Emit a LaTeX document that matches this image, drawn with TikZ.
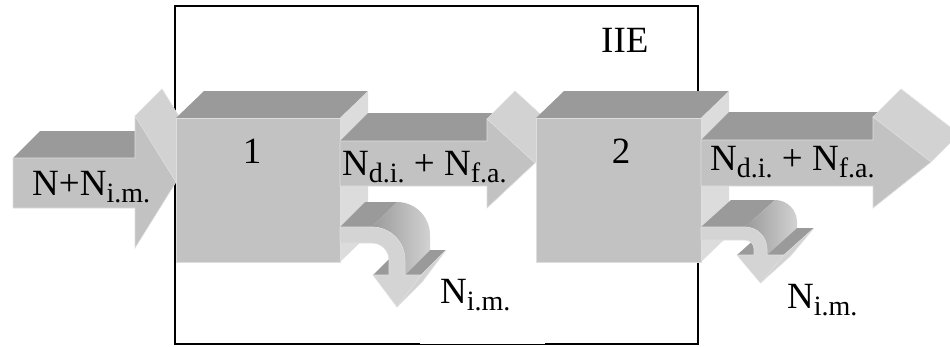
\documentclass[tikz,border=0pt]{standalone}
\usepackage{fontspec}
\setmainfont{Liberation Serif}
\definecolor{facefront}{HTML}{C2C2C2}
\definecolor{facetop}{HTML}{9A9A9A}
\definecolor{faceside}{HTML}{DCDCDC}
\definecolor{facehead}{HTML}{D2D2D2}
\definecolor{facecurl}{HTML}{D4D4D4}
\definecolor{edgelight}{HTML}{DEDEDE}
\newcommand{\lowidx}[1]{\raisebox{-0.2em}{\fontsize{28}{30}\selectfont #1}}
\tikzset{
  front/.style={fill=facefront, draw=edgelight, line width=0.6pt, line join=miter},
  topf/.style={fill=facetop},
  sidef/.style={fill=faceside},
  headf/.style={fill=facehead, draw=edgelight, line width=0.6pt},
  curlf/.style={fill=facecurl, draw=edgelight, line width=0.6pt},
  curlsurf/.style={left color=facetop, middle color=edgelight!90!white, right color=facehead},
  lbl/.style={inner sep=0pt, anchor=base west, font=\fontsize{37}{40}\selectfont},
  frameline/.style={draw=black, line width=1.4pt},
}
\begin{document}
\begin{tikzpicture}[x=1pt,y=-1pt]
\useasboundingbox (0,0) rectangle (950,346);
% frame (IIE boundary)
\draw[frameline] (420,344) -- (175,344) -- (175,6) -- (698,6) -- (698,344) -- (545,344);
\draw[black, line width=0.5pt] (420,344) -- (545,344);

% ---------- input arrow ----------
\fill[topf] (13,158) -- (135,158) -- (162,131) -- (40,131) -- cycle;
\fill[headf] (135,116) -- (176,182) -- (203,155) -- (162,89) -- cycle;
\path[front] (13,158) -- (135,158) -- (135,116) -- (176,182) -- (135,248) -- (135,208) -- (13,208) -- cycle;

% ---------- box 1 ----------
\fill[topf] (176,118) -- (340,118) -- (368,91) -- (204,91) -- cycle;
\fill[sidef] (340,118) -- (368,91) -- (368,235) -- (340,262) -- cycle;
\path[front] (176,118) rectangle (340,262);

% ---------- arrow between boxes ----------
\fill[topf] (340,141) -- (487,141) -- (515,113) -- (368,113) -- cycle;
\fill[headf] (487,119) -- (535,163) -- (563,135) -- (515,91) -- cycle;
\path[front] (340,141) -- (487,141) -- (487,119) -- (535,163) -- (487,208) -- (487,186) -- (340,186) -- cycle;

% ---------- curled arrow 1 ----------
\fill[topf] (373,275) -- (421,275) -- (446,250) -- (398,250) -- cycle;
\fill[headf] (421,275) -- (397,307) -- (422,282) -- (446,250) -- cycle;
\fill[topf] (340,227) -- (372,227) -- (397,202) -- (365,202) -- cycle;
\shade[curlsurf] (372,227) arc[start angle=-90, end angle=0, radius=33] -- (405,275) -- (430,250) -- (430,235) arc[start angle=0, end angle=-90, radius=33] -- cycle;
\path[curlf] (340,227) -- (372,227) arc[start angle=-90, end angle=0, radius=33] -- (405,275) -- (421,275) -- (397,307) -- (373,275) -- (389,275) -- (389,260) arc[start angle=0, end angle=-90, radius=17] -- (340,243) -- cycle;

% ---------- box 2 ----------
\fill[topf] (536,118) -- (701,118) -- (729,91) -- (564,91) -- cycle;
\fill[sidef] (701,118) -- (729,91) -- (729,235) -- (701,262) -- cycle;
\path[front] (536,118) rectangle (701,262);

% ---------- output arrow ----------
\fill[topf] (701,140) -- (873,140) -- (901,112) -- (729,112) -- cycle;
\fill[headf] (873,117) -- (931,162) -- (959,134) -- (901,89) -- cycle;
\path[front] (701,140) -- (873,140) -- (873,117) -- (931,162) -- (873,208) -- (873,186) -- (701,186) -- cycle;

% ---------- curled arrow 2 ----------
\fill[topf] (737,255) -- (784,255) -- (814,228) -- (767,228) -- cycle;
\fill[headf] (784,255) -- (760.5,283) -- (790.5,256) -- (814,228) -- cycle;
\fill[topf] (701,227) -- (745,227) -- (775,200) -- (731,200) -- cycle;
\shade[curlsurf] (745,227) arc[start angle=-90, end angle=0, radius=22] -- (767,255) -- (797,228) -- (797,222) arc[start angle=0, end angle=-90, radius=22] -- cycle;
\path[curlf] (701,227) -- (745,227) arc[start angle=-90, end angle=0, radius=22] -- (767,255) -- (784,255) -- (760.5,283) -- (737,255) -- (754,255) -- (754,249) arc[start angle=0, end angle=-90, radius=9] -- (701,240) -- cycle;

% ---------- labels ----------
\node[lbl] (iie) at (601,52) {IIE};
\node[lbl] (inlbl) at (32,195) {N+N\lowidx{i.m.}};
\node[lbl, anchor=base] (one) at (252,163) {1};
\node[lbl, anchor=base] (two) at (621,163) {2};
\node[lbl] (mid) at (342,175) {N\lowidx{d.i.} + N\lowidx{f.a.}};
\node[lbl] (out) at (710,170) {N\lowidx{d.i.} + N\lowidx{f.a.}};
\node[lbl] (loss1) at (440,303) {N\lowidx{i.m.}};
\node[lbl] (loss2) at (787,308) {N\lowidx{i.m.}};
\end{tikzpicture}
\end{document}
